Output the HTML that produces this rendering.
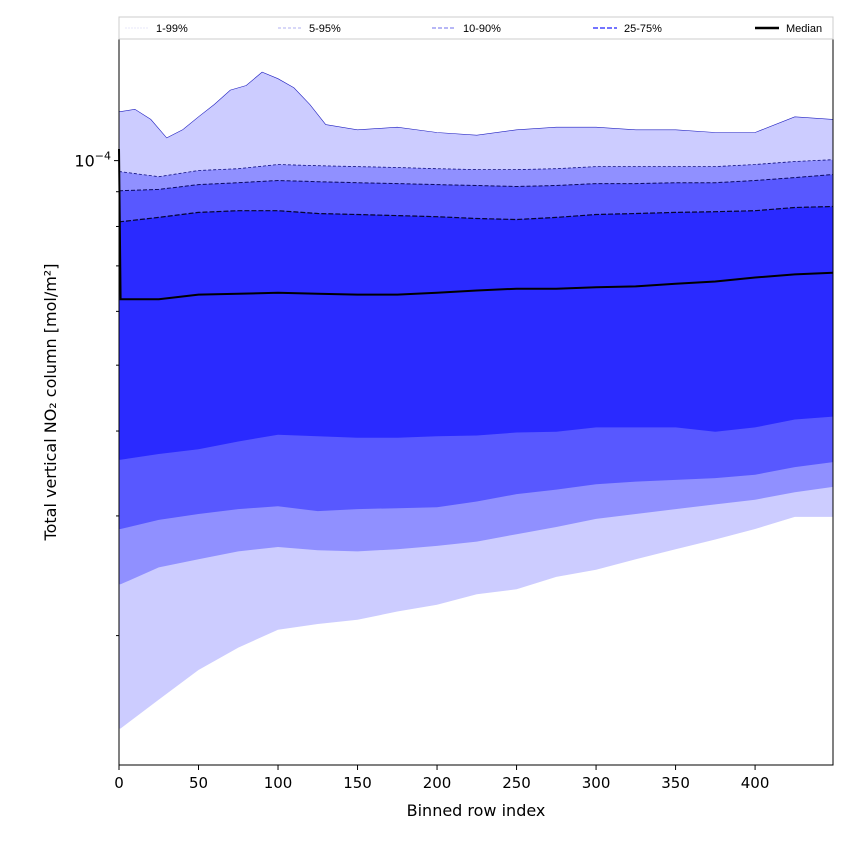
<!DOCTYPE html>
<html><head><meta charset="utf-8"><style>
body{margin:0;background:#fff;font-family:"Liberation Sans","DejaVu Sans",sans-serif}
svg text{font-family:"DejaVu Sans","Liberation Sans",sans-serif}
</style></head><body>
<svg id="chart" width="850" height="850" viewBox="0 0 850 850" xmlns="http://www.w3.org/2000/svg">
<rect width="850" height="850" fill="#fff"/>
<g id="bands"></g>
<g id="axes"></g>
<g id="legend"></g>
</svg>
<script>
const xs = [0,1,25,50,75,100,125,150,175,200,225,250,275,300,325,350,375,400,425,449];
const xs99 = [0,10,20,30,40,50,60,70,80,90,100,110,120,130,150,175,200,225,250,275,300,325,350,375,400,425,449];
// values in units of 1e-5 mol/m2
const p99 = [11.8,11.9,11.5,10.8,11.1,11.6,12.1,12.7,12.9,13.5,13.2,12.8,12.1,11.3,11.1,11.2,11.0,10.9,11.1,11.2,11.2,11.1,11.1,11.0,11.0,11.6,11.5];
const p95 = [9.63,9.63,9.47,9.67,9.73,9.87,9.83,9.80,9.77,9.73,9.70,9.70,9.73,9.80,9.80,9.80,9.80,9.87,9.97,10.03];
const p90 = [9.03,9.03,9.07,9.22,9.28,9.35,9.31,9.28,9.25,9.22,9.19,9.16,9.19,9.25,9.25,9.28,9.28,9.35,9.44,9.54];
const p75 = [8.13,8.13,8.25,8.39,8.44,8.44,8.36,8.33,8.30,8.27,8.22,8.19,8.25,8.33,8.36,8.39,8.41,8.44,8.53,8.56];
const median = [10.4,6.25,6.25,6.35,6.37,6.39,6.37,6.35,6.35,6.39,6.44,6.48,6.48,6.51,6.53,6.59,6.64,6.73,6.80,6.84];
const p25 = [3.63,3.63,3.70,3.76,3.86,3.95,3.93,3.91,3.91,3.93,3.94,3.98,3.99,4.05,4.05,4.05,3.99,4.05,4.16,4.20];
const p10 = [2.87,2.87,2.96,3.02,3.07,3.10,3.05,3.07,3.08,3.09,3.15,3.23,3.28,3.34,3.37,3.39,3.41,3.45,3.54,3.60];
const p5 = [2.38,2.38,2.52,2.59,2.66,2.70,2.67,2.66,2.68,2.71,2.75,2.82,2.89,2.97,3.02,3.07,3.12,3.17,3.25,3.31];
const p1 = [1.46,1.46,1.61,1.78,1.92,2.04,2.08,2.11,2.17,2.22,2.30,2.34,2.44,2.50,2.59,2.68,2.77,2.87,2.99,2.99];
const xTicks = [0,50,100,150,200,250,300,350,400];
const yMinor = [2,3,4,5,6,7,8,9];
const legendLabels = ['1-99%','5-95%','10-90%','25-75%','Median'];

const L=119,R=833,T=39,B=765;
const xMin=0,xMax=449;
const yLogMin=Math.log10(1.29), yLogMax=Math.log10(15.1);
const sx=v=>L+(v-xMin)/(xMax-xMin)*(R-L);
const sy=v=>B-(Math.log10(v)-yLogMin)/(yLogMax-yLogMin)*(B-T);
const NS='http://www.w3.org/2000/svg';
function mk(tag,parent){const e=document.createElementNS(NS,tag);parent.appendChild(e);return e;}
const bands=document.getElementById('bands');
const axes=document.getElementById('axes');
const legend=document.getElementById('legend');
function linePts(arr,xa){xa=xa||xs;return xa.map((x,i)=>sx(x).toFixed(1)+','+sy(arr[i]).toFixed(1));}
function band(up,lo,fill,name,xu){
  const p=mk('polygon',bands);
  
  
  p.setAttribute('points',linePts(up,xu).concat(linePts(lo).reverse()).join(' '));
  p.setAttribute('fill',fill);
}
band(p99,p1,'#ccccff','band-1-99',xs99);
band(p95,p5,'#9090ff','band-5-95');
band(p90,p10,'#5858ff','band-10-90');
band(p75,p25,'#2a2aff','band-25-75');
function line(arr,stroke,w,dash,name,xa){
  const p=mk('polyline',bands);
  
  
  p.setAttribute('points',linePts(arr,xa).join(' '));
  p.setAttribute('fill','none');p.setAttribute('stroke',stroke);p.setAttribute('stroke-width',w);
  if(dash)p.setAttribute('stroke-dasharray',dash);
}
line(p99,'#2020c0',0.6,null,'line-p99',xs99);
line(p95,'#101080',0.8,'3,2','line-p95');
line(p90,'#0a0a60',1,'4,2','line-p90');
line(p75,'#050530',1.2,'5,2','line-p75');
line(median,'#000',2,null,'median-line');
const fr=mk('rect',axes);


fr.setAttribute('x',L);fr.setAttribute('y',T);fr.setAttribute('width',R-L);fr.setAttribute('height',B-T);
fr.setAttribute('fill','none');fr.setAttribute('stroke','#000');fr.setAttribute('stroke-width','1');
xTicks.forEach(t=>{
  const l=mk('line',axes);
  
  
  l.setAttribute('x1',sx(t));l.setAttribute('x2',sx(t));l.setAttribute('y1',B);l.setAttribute('y2',B+5);l.setAttribute('stroke','#000');
  const tx=mk('text',axes);
  
  
  tx.setAttribute('x',sx(t));tx.setAttribute('y',B+23);tx.setAttribute('text-anchor','middle');tx.setAttribute('font-size','15');
  tx.textContent=t;
});
yMinor.forEach(t=>{
  const l=mk('line',axes);
  
  
  l.setAttribute('x1',L-3);l.setAttribute('x2',L);l.setAttribute('y1',sy(t));l.setAttribute('y2',sy(t));l.setAttribute('stroke','#000');
});
const mj=mk('line',axes);


mj.setAttribute('x1',L-5);mj.setAttribute('x2',L);mj.setAttribute('y1',sy(10));mj.setAttribute('y2',sy(10));mj.setAttribute('stroke','#000');
const yl=mk('text',axes);


yl.setAttribute('x',L-8);yl.setAttribute('y',sy(10)+6);yl.setAttribute('text-anchor','end');yl.setAttribute('font-size','16');
yl.innerHTML='10<tspan dy="-7" font-size="11">−4</tspan>';
const xt=mk('text',axes);


xt.setAttribute('x',(L+R)/2);xt.setAttribute('y',816);xt.setAttribute('text-anchor','middle');xt.setAttribute('font-size','16');
xt.textContent='Binned row index';
const yt=mk('text',axes);


yt.setAttribute('transform','translate(56,402) rotate(-90)');yt.setAttribute('text-anchor','middle');yt.setAttribute('font-size','16');
yt.textContent='Total vertical NO₂ column [mol/m²]';
const lb=mk('rect',legend);


lb.setAttribute('x',L);lb.setAttribute('y',17);lb.setAttribute('width',R-L);lb.setAttribute('height',22);
lb.setAttribute('fill','#fff');lb.setAttribute('stroke','#ccc');
const lx=[125,278,432,593,755];
const lcol=['#e0e0f8','#b0b0f0','#8c8cf0','#6060ff','#000'];
const lw=[0.8,1,1.3,1.8,2.4];
const ld=['2,1','3,2','4,2','5,2',null];
legendLabels.forEach((s,i)=>{
  const g=mk('g',legend);
  
  
  const l=mk('line',g);
  l.setAttribute('x1',lx[i]);l.setAttribute('x2',lx[i]+24);l.setAttribute('y1',28);l.setAttribute('y2',28);
  l.setAttribute('stroke',lcol[i]);l.setAttribute('stroke-width',lw[i]);
  if(ld[i])l.setAttribute('stroke-dasharray',ld[i]);
  const t=mk('text',g);
  t.setAttribute('x',lx[i]+31);t.setAttribute('y',32);t.setAttribute('font-size','11');
  t.setAttribute('style','font-family:"Liberation Sans",sans-serif');
  t.textContent=s;
});
</script>
</body></html>
